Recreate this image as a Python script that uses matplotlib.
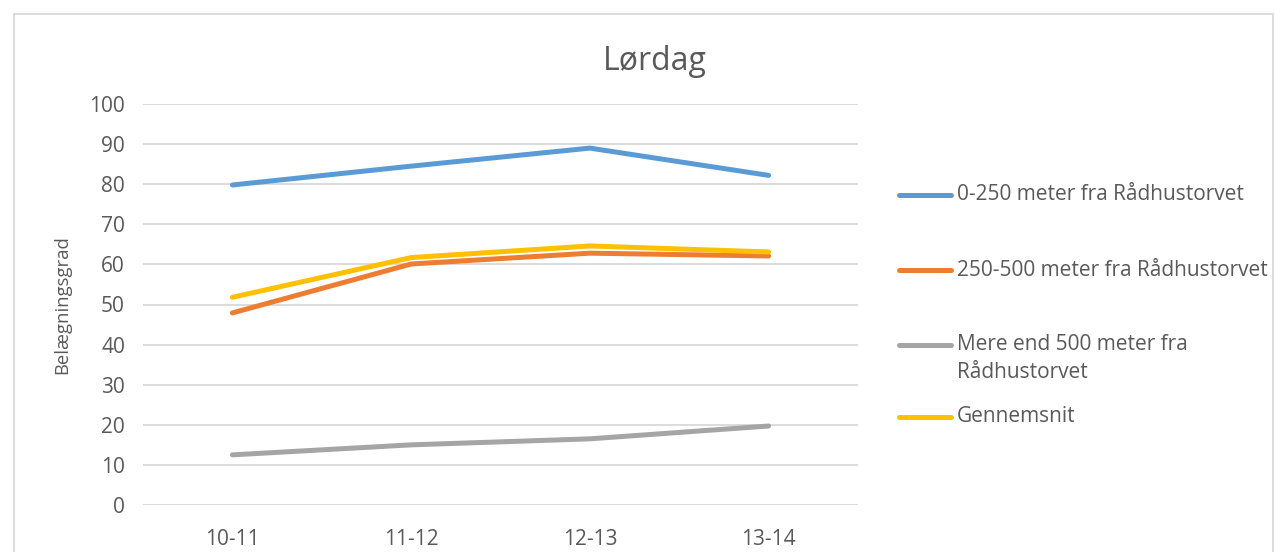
import matplotlib.pyplot as plt
from matplotlib.patches import Rectangle
from matplotlib.lines import Line2D

# data
periods = ["10-11", "11-12", "12-13", "13-14"]
near = [79.8, 84.5, 89.0, 82.2]        # 0-250 m
mid = [47.9, 60.1, 62.8, 62.1]         # 250-500 m
far = [12.5, 15.0, 16.5, 19.7]         # > 500 m
average = [51.8, 61.7, 64.6, 63.1]

labels = [
    "0-250 meter fra Rådhustorvet",
    "250-500 meter fra Rådhustorvet",
    "Mere end 500 meter fra\nRådhustorvet",
    "Gennemsnit",
]
colors = ["#5B9BD5", "#ED7D31", "#A5A5A5", "#FFC000"]
yticks = list(range(0, 101, 10))

plt.rcParams['font.family'] = ['Open Sans', 'DejaVu Sans']
text_col = "#595959"

W, H = 1275, 552
fig = plt.figure(figsize=(W / 100, H / 100), dpi=100)
ax = fig.add_axes([143 / W, 1 - 505 / H, (858 - 143) / W, (505 - 104) / H])

x = range(len(periods))
for vals, col in zip([near, mid, far, average], colors):
    ax.plot(x, vals, color=col, lw=3.6, solid_capstyle="round", zorder=3)

ax.set_xlim(-0.5, len(periods) - 0.5)
ax.set_ylim(0, 100)
ax.set_yticks(yticks)
ax.set_xticks(list(x))
ax.set_xticklabels(periods)
ax.grid(axis="y", color="#D9D9D9", lw=1.3)
ax.set_axisbelow(True)
for s in ax.spines.values():
    s.set_visible(False)
ax.tick_params(length=0, labelsize=15, colors=text_col, pad=13)
ax.tick_params(axis="x", pad=17)
ax.set_ylabel("Belægningsgrad", fontsize=13.3, color=text_col, labelpad=13)

fig.text(655 / W, 1 - 61 / H, "Lørdag", fontsize=23, color=text_col,
         ha="center", va="center")

# legend drawn by hand to match the spacing
legend_y = [195, 270, 345, 417]
for lab, col, yy in zip(labels, colors, legend_y):
    fy = 1 - yy / H
    fig.add_artist(Line2D([899 / W, 951 / W], [fy, fy], color=col, lw=3.6,
                          solid_capstyle="round", transform=fig.transFigure))
    for i, part in enumerate(lab.split("\n")):
        fig.text(957 / W, 1 - (yy + 27 * i) / H, part, fontsize=15,
                 color=text_col, ha="left", va="center")

# chart border
fig.add_artist(Rectangle((13.5 / W, -0.05), (1273 - 13.5) / W, 1 - 13.5 / H + 0.05,
                         fill=False, ec="#D9D9D9", lw=1.3, transform=fig.transFigure))

fig.savefig("out.png", dpi=100)
